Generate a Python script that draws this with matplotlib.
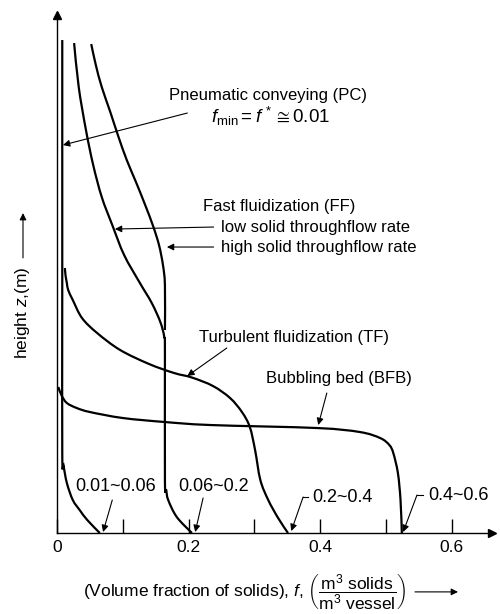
import matplotlib
matplotlib.use("Agg")
import matplotlib.pyplot as plt
from matplotlib.path import Path
from matplotlib.patches import PathPatch, FancyArrowPatch

plt.rcParams["font.family"] = ["Liberation Sans", "DejaVu Sans"]
plt.rcParams["mathtext.fontset"] = "custom"
plt.rcParams["mathtext.rm"] = "Liberation Sans"
plt.rcParams["mathtext.it"] = "Liberation Sans:italic"
plt.rcParams["mathtext.bf"] = "Liberation Sans:bold"

# volume fraction of solids f vs. height z (arbitrary units)
pc_f = [0.008, 0.008, 0.008, 0.010, 0.015, 0.024, 0.035, 0.046, 0.065]
pc_z = [0.986, 0.50, 0.16, 0.135, 0.10, 0.066, 0.045, 0.026, 0.0]

ff_low_f = [0.026, 0.033, 0.044, 0.055, 0.068, 0.084, 0.102, 0.126, 0.144, 0.157,
            0.163, 0.164, 0.164, 0.166, 0.169, 0.182, 0.205]
ff_low_z = [0.980, 0.892, 0.806, 0.736, 0.672, 0.616, 0.556, 0.500, 0.460, 0.422,
            0.392, 0.362, 0.106, 0.086, 0.066, 0.032, 0.0]

ff_high_f = [0.052, 0.059, 0.068, 0.081, 0.093, 0.106, 0.120, 0.134, 0.146, 0.155,
             0.161, 0.164, 0.164]
ff_high_z = [0.978, 0.936, 0.892, 0.842, 0.794, 0.746, 0.702, 0.656, 0.614, 0.576,
             0.536, 0.496, 0.406]

tf_f = [0.012, 0.013, 0.015, 0.017, 0.024, 0.038, 0.061, 0.096, 0.140, 0.178, 0.205,
        0.237, 0.263, 0.281, 0.293, 0.301, 0.309, 0.321, 0.336, 0.351]
tf_z = [0.530, 0.515, 0.500, 0.486, 0.466, 0.430, 0.400, 0.366, 0.338, 0.320, 0.311,
        0.294, 0.270, 0.242, 0.212, 0.166, 0.106, 0.066, 0.030, 0.0]

bfb_f = [0.002, 0.007, 0.015, 0.030, 0.050, 0.100, 0.164, 0.233, 0.395, 0.460, 0.491,
         0.505, 0.511, 0.518, 0.522, 0.524]
bfb_z = [0.292, 0.275, 0.260, 0.250, 0.242, 0.230, 0.222, 0.216, 0.210, 0.202, 0.190,
         0.176, 0.160, 0.120, 0.066, 0.0]

x_ticks = [0, 0.2, 0.4, 0.6]
x_tick_labels = ["0", "0.2", "0.4", "0.6"]
x_minor = [0.1, 0.3, 0.5]
range_labels = ["0.01~0.06", "0.06~0.2", "0.2~0.4", "0.4~0.6"]


def smooth_curve(ax, xs, ys, **kw):
    # Catmull-Rom through the read points, drawn as cubic Bezier segments
    pts = list(zip(xs, ys))
    verts = [pts[0]]
    codes = [Path.MOVETO]
    n = len(pts)
    for i in range(n - 1):
        p0 = pts[max(i - 1, 0)]
        p1 = pts[i]
        p2 = pts[i + 1]
        p3 = pts[min(i + 2, n - 1)]
        c1 = (p1[0] + (p2[0] - p0[0]) / 6, p1[1] + (p2[1] - p0[1]) / 6)
        c2 = (p2[0] - (p3[0] - p1[0]) / 6, p2[1] - (p3[1] - p1[1]) / 6)
        verts += [c1, c2, p2]
        codes += [Path.CURVE4] * 3
    ax.add_patch(PathPatch(Path(verts, codes), fill=False, **kw))


fig = plt.figure(figsize=(5, 6.14), dpi=100)
ax = fig.add_axes([0.114, 0.1319, 0.87, 0.8436])
ax.set_xlim(0, 0.661)
ax.set_ylim(0, 1.036)

for f, z in [(pc_f, pc_z), (ff_low_f, ff_low_z), (ff_high_f, ff_high_z),
             (tf_f, tf_z), (bfb_f, bfb_z)]:
    smooth_curve(ax, f, z, edgecolor="black", lw=1.6, capstyle="butt")

# axes with arrow heads
for s in ["top", "right"]:
    ax.spines[s].set_visible(False)
ax.spines["left"].set_linewidth(1.0)
ax.spines["bottom"].set_linewidth(1.0)
ax.plot(1, 0, ">k", transform=ax.transAxes, clip_on=False, ms=6)
ax.plot(0, 1, "^k", transform=ax.transAxes, clip_on=False, ms=6)

ax.set_xticks(x_ticks)
ax.set_xticklabels(x_tick_labels, fontsize=12.5)
ax.set_xticks(x_minor, minor=True)
ax.tick_params(axis="x", which="both", direction="in", length=10, width=1, pad=5)
ax.set_yticks([])

arrow = dict(arrowstyle="-|>", color="black", lw=0.8, mutation_scale=10,
             shrinkA=0, shrinkB=0)
fs = 12

# pneumatic conveying
ax.text(0.17, 0.876, "Pneumatic conveying (PC)", fontsize=fs, va="center")
ax.text(0.324, 0.834, r"$f_{\mathrm{min}} = f^{\,*} \cong 0.01$", fontsize=13.5,
        va="center", ha="center")
ax.annotate("", xy=(0.009, 0.776), xytext=(0.198, 0.84), arrowprops=arrow)

# fast fluidization
ax.text(0.222, 0.654, "Fast fluidization (FF)", fontsize=fs, va="center")
ax.text(0.249, 0.612, "low solid throughflow rate", fontsize=fs, va="center")
ax.text(0.249, 0.572, "high solid throughflow rate", fontsize=fs, va="center")
ax.annotate("", xy=(0.088, 0.608), xytext=(0.238, 0.612), arrowprops=arrow)
ax.annotate("", xy=(0.167, 0.572), xytext=(0.238, 0.572), arrowprops=arrow)

# turbulent fluidization
ax.text(0.216, 0.392, "Turbulent fluidization (TF)", fontsize=fs, va="center")
ax.annotate("", xy=(0.198, 0.314), xytext=(0.258, 0.37), arrowprops=arrow)

# bubbling bed
ax.text(0.318, 0.31, "Bubbling bed (BFB)", fontsize=fs, va="center")
ax.annotate("", xy=(0.397, 0.216), xytext=(0.41, 0.28), arrowprops=arrow)

# bottom ranges
fs2 = 13
ax.text(0.027, 0.094, range_labels[0], fontsize=fs2, va="center")
ax.annotate("", xy=(0.070, 0.002), xytext=(0.084, 0.066), arrowprops=arrow)
ax.text(0.184, 0.094, range_labels[1], fontsize=fs2, va="center")
ax.annotate("", xy=(0.210, 0.002), xytext=(0.222, 0.070), arrowprops=arrow)
ax.text(0.388, 0.072, range_labels[2], fontsize=fs2, va="center")
ax.plot([0.374, 0.382], [0.072, 0.072], color="black", lw=0.8)
ax.annotate("", xy=(0.356, 0.004), xytext=(0.374, 0.072), arrowprops=arrow)
ax.text(0.564, 0.076, range_labels[3], fontsize=fs2, va="center")
ax.plot([0.547, 0.556], [0.076, 0.076], color="black", lw=0.8)
ax.annotate("", xy=(0.526, 0.002), xytext=(0.547, 0.076), arrowprops=arrow)

# axis titles
fig.text(0.046, 0.49, r"height $z$,(m)", rotation=90, fontsize=12.5,
         ha="center", va="center")
fig.add_artist(FancyArrowPatch((0.046, 0.58), (0.046, 0.653),
                               transform=fig.transFigure, **arrow))

fig.text(0.166, 0.036,
         r"(Volume fraction of solids), $f$, $\left(\dfrac{\mathrm{m}^3\ \mathrm{solids}}{\mathrm{m}^3\ \mathrm{vessel}}\right)$",
         fontsize=12.5, ha="left", va="center")
fig.add_artist(FancyArrowPatch((0.83, 0.036), (0.916, 0.036),
                               transform=fig.transFigure, **arrow))

fig.savefig("out.png", dpi=100)
